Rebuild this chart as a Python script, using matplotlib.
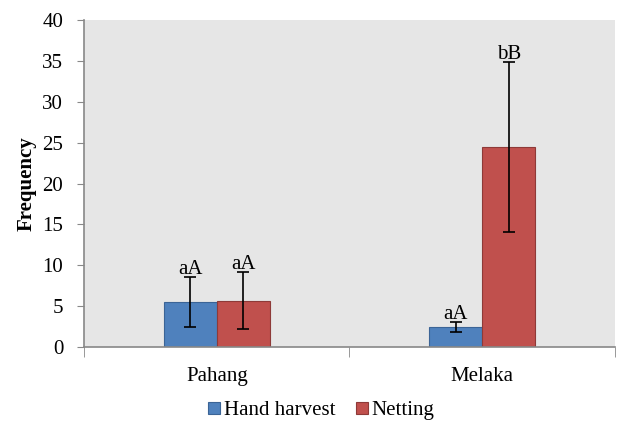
import numpy as np
import matplotlib.pyplot as plt

plt.rcParams['font.family'] = ['Liberation Serif', 'DejaVu Serif']

sites = ['Pahang', 'Melaka']
series = ['Hand harvest', 'Netting']
hand_mean = [5.5, 2.45]
hand_err = [3.1, 0.65]
net_mean = [5.7, 24.5]
net_err = [3.5, 10.4]
hand_labels = ['aA', 'aA']
net_labels = ['aA', 'bB']

fs = 15

fig = plt.figure(figsize=(6.18, 4.28), dpi=100)
ax = fig.add_axes([0.136, 0.189, 0.859, 0.764])
ax.set_facecolor('#e6e6e6')

x = np.arange(len(sites))
w = 0.2
ekw = dict(ecolor='black', elinewidth=1.2, capsize=4, capthick=1.2)
b1 = ax.bar(x - w / 2, hand_mean, w, yerr=hand_err, color='#4f81bd',
            edgecolor='#3b6496', linewidth=0.8, label=series[0], error_kw=ekw)
b2 = ax.bar(x + w / 2, net_mean, w, yerr=net_err, color='#c0504d',
            edgecolor='#8e3a38', linewidth=0.8, label=series[1], error_kw=ekw)

for i in range(len(sites)):
    ax.text(x[i] - w / 2, hand_mean[i] + hand_err[i] - 0.3, hand_labels[i],
            ha='center', va='bottom', fontsize=fs)
    ax.text(x[i] + w / 2, net_mean[i] + net_err[i] - 0.3, net_labels[i],
            ha='center', va='bottom', fontsize=fs)

ax.set_xlim(-0.5, 1.5)
ax.set_ylim(0, 40)
ax.set_yticks(np.arange(0, 41, 5))
ax.set_xticks(x)
ax.set_xticklabels(sites)
ax.set_xticks([-0.5, 0.5, 1.5], minor=True)
ax.tick_params(axis='x', which='major', length=0, pad=14, labelsize=fs)
ax.tick_params(axis='x', which='minor', length=7, color='#888888', direction='out')
ax.tick_params(axis='y', length=5, color='#888888', labelsize=fs, pad=10)

for s in ['top', 'right']:
    ax.spines[s].set_visible(False)
for s in ['left', 'bottom']:
    ax.spines[s].set_color('#888888')
    ax.spines[s].set_linewidth(1.2)

ax.set_ylabel('Frequency', fontsize=fs, fontweight='bold', labelpad=4)

fig.legend(handles=[b1, b2], labels=series, loc='center', bbox_to_anchor=(0.52, 0.04),
           ncol=2, frameon=False, fontsize=fs, handlelength=0.55, handleheight=0.55,
           handletextpad=0.2, columnspacing=1.0)

fig.savefig('out.png', dpi=100)
